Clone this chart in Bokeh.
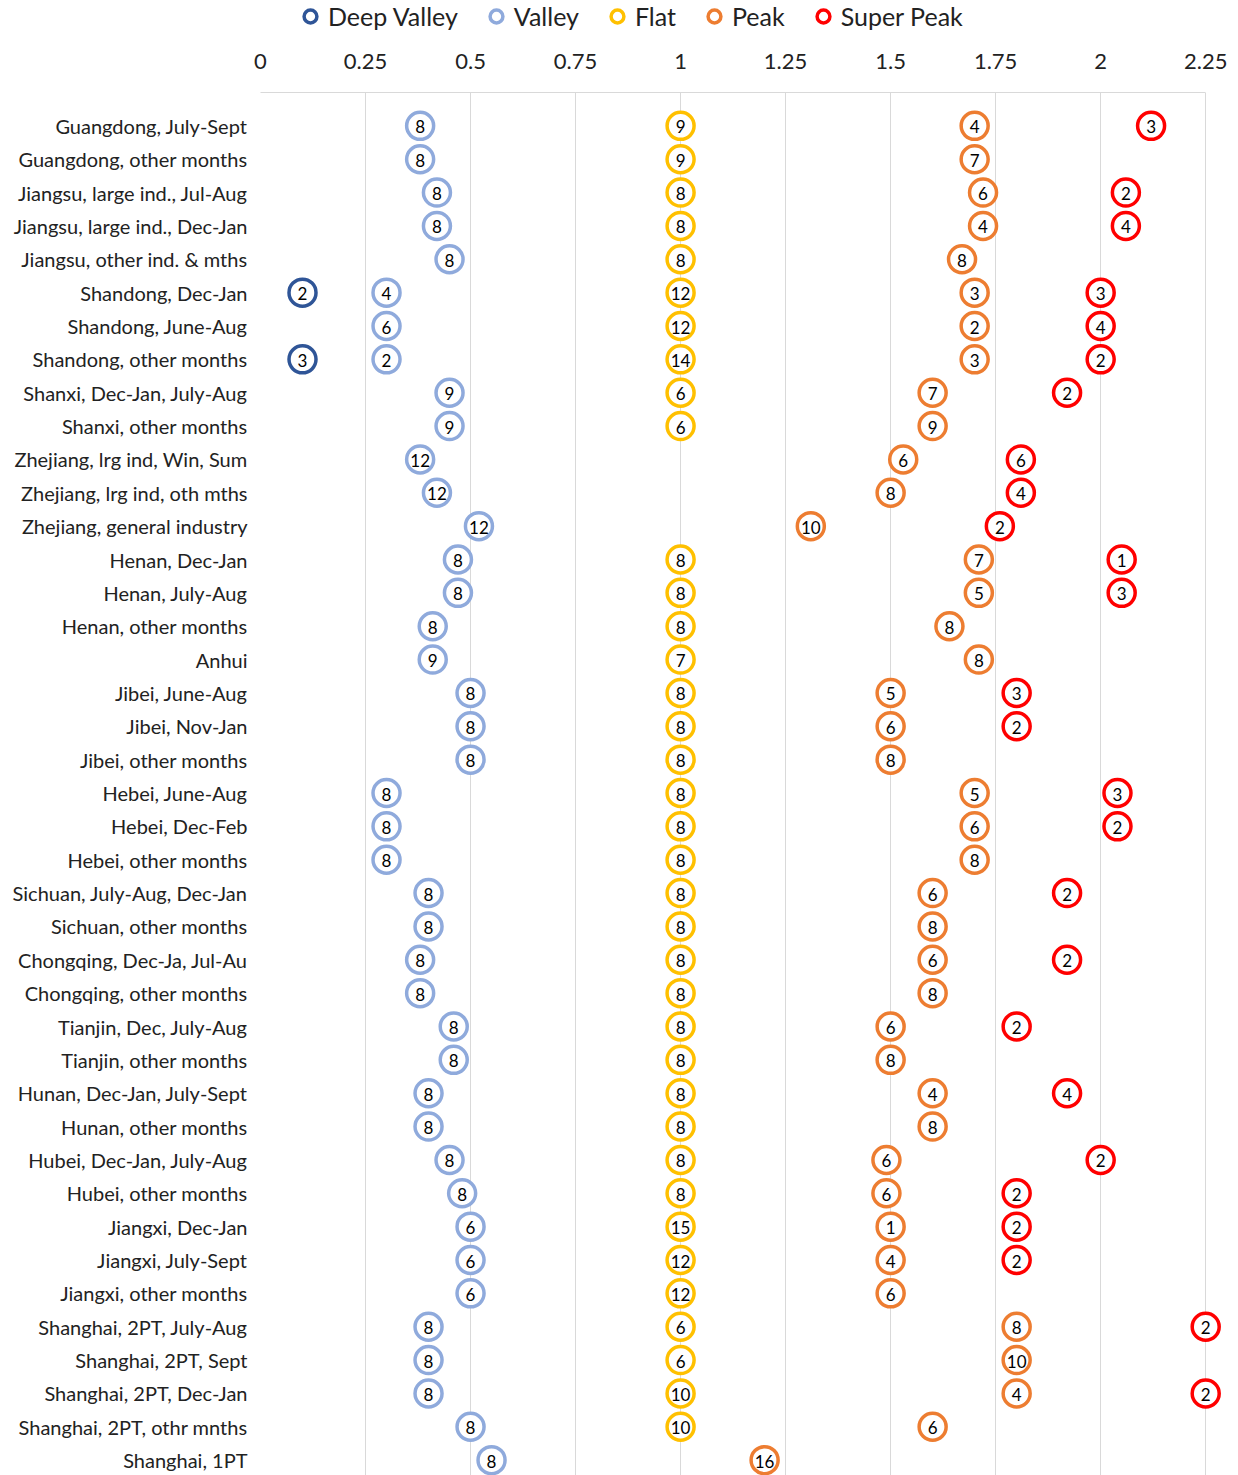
import math
from bokeh.plotting import figure
from bokeh.layouts import column
from bokeh.models import Range1d, FixedTicker, Legend, LegendItem, ColumnDataSource
from bokeh.core.properties import value
from bokeh.embed import file_html
from bokeh.resources import INLINE

FONT = "Lato"

categories = [
    "Guangdong, July-Sept", "Guangdong, other months", "Jiangsu, large ind., Jul-Aug",
    "Jiangsu, large ind., Dec-Jan", "Jiangsu, other ind. & mths", "Shandong, Dec-Jan",
    "Shandong, June-Aug", "Shandong, other months", "Shanxi, Dec-Jan, July-Aug",
    "Shanxi, other months", "Zhejiang, lrg ind, Win, Sum", "Zhejiang, lrg ind, oth mths",
    "Zhejiang, general industry", "Henan, Dec-Jan", "Henan, July-Aug", "Henan, other months",
    "Anhui", "Jibei, June-Aug", "Jibei, Nov-Jan", "Jibei, other months", "Hebei, June-Aug",
    "Hebei, Dec-Feb", "Hebei, other months", "Sichuan, July-Aug, Dec-Jan",
    "Sichuan, other months", "Chongqing, Dec-Ja, Jul-Au", "Chongqing, other months",
    "Tianjin, Dec, July-Aug", "Tianjin, other months", "Hunan, Dec-Jan, July-Sept",
    "Hunan, other months", "Hubei, Dec-Jan, July-Aug", "Hubei, other months",
    "Jiangxi, Dec-Jan", "Jiangxi, July-Sept", "Jiangxi, other months",
    "Shanghai, 2PT, July-Aug", "Shanghai, 2PT, Sept", "Shanghai, 2PT, Dec-Jan",
    "Shanghai, 2PT, othr mnths", "Shanghai, 1PT",
]

N = None
deep_valley_ratio = [N, N, N, N, N, 0.1, N, 0.1, N, N, N, N, N, N, N, N, N, N, N, N, N,
                     N, N, N, N, N, N, N, N, N, N, N, N, N, N, N, N, N, N, N, N]
deep_valley_hours = [N, N, N, N, N, 2, N, 3, N, N, N, N, N, N, N, N, N, N, N, N, N,
                     N, N, N, N, N, N, N, N, N, N, N, N, N, N, N, N, N, N, N, N]

valley_ratio = [0.38, 0.38, 0.42, 0.42, 0.45, 0.3, 0.3, 0.3, 0.45, 0.45, 0.38, 0.42, 0.52,
                0.47, 0.47, 0.41, 0.41, 0.5, 0.5, 0.5, 0.3, 0.3, 0.3, 0.4, 0.4, 0.38, 0.38,
                0.46, 0.46, 0.4, 0.4, 0.45, 0.48, 0.5, 0.5, 0.5, 0.4, 0.4, 0.4, 0.5, 0.55]
valley_hours = [8, 8, 8, 8, 8, 4, 6, 2, 9, 9, 12, 12, 12, 8, 8, 8, 9, 8, 8, 8, 8, 8, 8, 8,
                8, 8, 8, 8, 8, 8, 8, 8, 8, 6, 6, 6, 8, 8, 8, 8, 8]

flat_ratio = [1, 1, 1, 1, 1, 1, 1, 1, 1, 1, N, N, N, 1, 1, 1, 1, 1, 1, 1, 1, 1, 1, 1, 1, 1,
              1, 1, 1, 1, 1, 1, 1, 1, 1, 1, 1, 1, 1, 1, N]
flat_hours = [9, 9, 8, 8, 8, 12, 12, 14, 6, 6, N, N, N, 8, 8, 8, 7, 8, 8, 8, 8, 8, 8, 8, 8,
              8, 8, 8, 8, 8, 8, 8, 8, 15, 12, 12, 6, 6, 10, 10, N]

peak_ratio = [1.7, 1.7, 1.72, 1.72, 1.67, 1.7, 1.7, 1.7, 1.6, 1.6, 1.53, 1.5, 1.31, 1.71,
              1.71, 1.64, 1.71, 1.5, 1.5, 1.5, 1.7, 1.7, 1.7, 1.6, 1.6, 1.6, 1.6, 1.5, 1.5,
              1.6, 1.6, 1.49, 1.49, 1.5, 1.5, 1.5, 1.8, 1.8, 1.8, 1.6, 1.2]
peak_hours = [4, 7, 6, 4, 8, 3, 2, 3, 7, 9, 6, 8, 10, 7, 5, 8, 8, 5, 6, 8, 5, 6, 8, 6, 8,
              6, 8, 6, 8, 4, 8, 6, 6, 1, 4, 6, 8, 10, 4, 6, 16]

super_peak_ratio = [2.12, N, 2.06, 2.06, N, 2.0, 2.0, 2.0, 1.92, N, 1.81, 1.81, 1.76, 2.05,
                    2.05, N, N, 1.8, 1.8, N, 2.04, 2.04, N, 1.92, N, 1.92, N, 1.8, N, 1.92,
                    N, 2.0, 1.8, 1.8, 1.8, N, 2.25, N, 2.25, N, N]
super_peak_hours = [3, N, 2, 4, N, 3, 4, 2, 2, N, 6, 4, 2, 1, 3, N, N, 3, 2, N, 3, 2, N, 2,
                    N, 2, N, 2, N, 4, N, 2, 2, 2, 2, N, 2, N, 2, N, N]

tick_values = [0, 0.25, 0.5, 0.75, 1, 1.25, 1.5, 1.75, 2, 2.25]
tick_labels = ["0", "0.25", "0.5", "0.75", "1", "1.25", "1.5", "1.75", "2", "2.25"]

series = [
    ("Deep Valley", deep_valley_ratio, deep_valley_hours, "#2F5597"),
    ("Valley", valley_ratio, valley_hours, "#8FAADC"),
    ("Flat", flat_ratio, flat_hours, "#FFC000"),
    ("Peak", peak_ratio, peak_hours, "#ED7D31"),
    ("Super Peak", super_peak_ratio, super_peak_hours, "#FF0000"),
]

n = len(categories)
p = figure(width=1230, height=1443, output_backend="svg", toolbar_location=None,
           x_axis_location="above", x_range=Range1d(0, 2.29), y_range=Range1d(n + 0.46, 0),
           min_border_left=260, min_border_right=8, min_border_top=60, min_border_bottom=0)
p.outline_line_color = None
p.background_fill_color = "white"

# axes
p.xaxis.ticker = FixedTicker(ticks=tick_values)
p.xaxis.bounds = (tick_values[0], tick_values[-1])
p.xaxis.major_label_overrides = {v: l for v, l in zip(tick_values, tick_labels)}
p.xaxis.major_label_text_font = FONT
p.xaxis.major_label_text_font_size = "22px"
p.xaxis.major_label_text_color = "#222222"
p.xaxis.major_label_standoff = 24
p.xaxis.major_tick_in = 0
p.xaxis.major_tick_out = 0
p.xaxis.minor_tick_in = 0
p.xaxis.minor_tick_out = 0
p.xaxis.axis_line_color = "#d9d9d9"

p.yaxis.ticker = FixedTicker(ticks=list(range(1, n + 1)))
p.yaxis.major_label_overrides = {i + 1: c for i, c in enumerate(categories)}
p.yaxis.major_label_text_font = FONT
p.yaxis.major_label_text_font_size = "20px"
p.yaxis.major_label_text_color = "#222222"
p.yaxis.major_label_standoff = 13
p.yaxis.major_tick_in = 0
p.yaxis.major_tick_out = 0
p.yaxis.minor_tick_in = 0
p.yaxis.minor_tick_out = 0
p.yaxis.axis_line_color = None

p.xgrid.ticker = FixedTicker(ticks=tick_values)
p.xgrid.grid_line_color = "#d9d9d9"
p.xgrid.grid_line_width = 1
p.ygrid.grid_line_color = None

# legend-only strip on top (its frame is aligned with the main frame by the column)
lg = figure(width=1230, height=32, output_backend="svg", toolbar_location=None,
            x_range=Range1d(0, 1), y_range=Range1d(0, 1),
            min_border_left=0, min_border_right=0, min_border_top=0, min_border_bottom=0)
lg.axis.visible = False
lg.grid.visible = False
lg.outline_line_color = None

legend_items = []
for name, ratios, hours, color in series:
    xs, ys, ts = [], [], []
    for i, (r, h) in enumerate(zip(ratios, hours)):
        if r is None:
            continue
        xs.append(r)
        ys.append(i + 1)
        ts.append(str(h))
    src = ColumnDataSource(dict(x=xs, y=ys, t=ts))
    p.scatter("x", "y", source=src, size=27, marker="circle", fill_color="white",
              line_color=color, line_width=3.5)
    p.text("x", "y", text="t", source=src, text_align="center", text_baseline="middle",
           text_font=value(FONT), text_font_size="17px", text_color="black", y_offset=1)
    proxy = lg.scatter([math.nan], [math.nan], size=14, marker="circle", fill_color="white",
                       line_color=color, line_width=3.5)
    legend_items.append(LegendItem(label=name, renderers=[proxy]))

legend = Legend(items=legend_items, orientation="horizontal", location=(32, 0),
                glyph_width=36, glyph_height=32, label_standoff=-9, spacing=20,
                padding=0, margin=0, border_line_color=None, background_fill_alpha=0,
                label_text_font=FONT, label_text_font_size="25px",
                label_text_color="#222222")
lg.add_layout(legend, "center")

layout = column(lg, p, spacing=0)
open("out.html", "w").write(file_html(layout, INLINE))
